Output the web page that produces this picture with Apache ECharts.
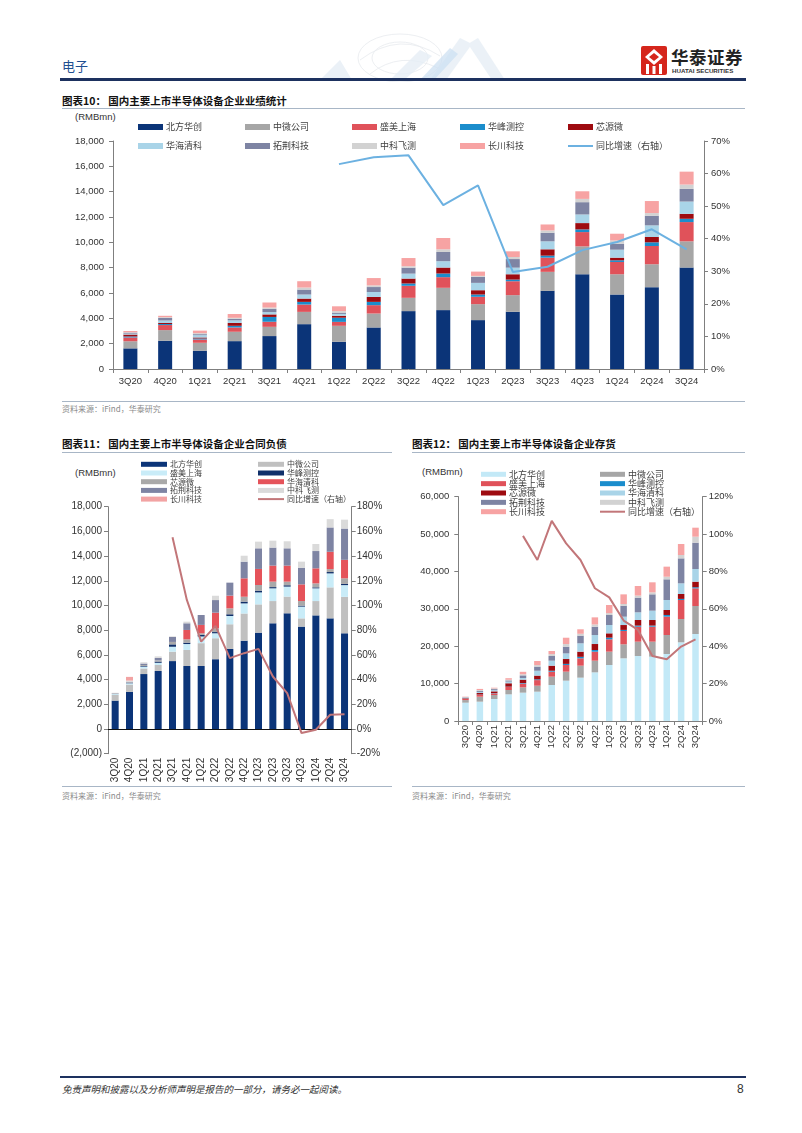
<!DOCTYPE html>
<html><head><meta charset="utf-8">
<script src="https://cdn.jsdelivr.net/npm/echarts@6/dist/echarts.min.js"></script>
<style>
body{margin:0;width:802px;height:1133px;background:#fff;position:relative;overflow:hidden;font-family:"Noto Sans CJK SC",sans-serif;}
.t{position:absolute;white-space:nowrap;}
.ln{position:absolute;}
.chart{position:absolute;left:0;top:0;width:802px;height:1133px;}
</style></head><body>

<!-- header decoration -->
<svg class="ln" style="left:300px;top:30px;opacity:0.6" width="240" height="52">
  <g fill="none" stroke="#d9dee5" stroke-width="0.8">
    <ellipse cx="100" cy="28" rx="42" ry="24"/>
    <ellipse cx="100" cy="28" rx="28" ry="16"/>
    <path d="M60 30 Q100 0 140 26"/><path d="M70 44 Q100 20 138 38"/>
  </g>
  <g fill="#d6e4f1" opacity="0.8">
    <polygon points="20,50 40,30 52,50"/>
    <polygon points="90,50 120,20 132,26 104,50"/>
    <polygon points="130,50 160,8 172,14 146,50"/>
    <polygon points="168,14 178,8 205,50 192,50"/>
  </g>
  <g fill="#a9cbea" opacity="0.7">
    <polygon points="120,50 150,18 158,24 134,50"/>
  </g>
</svg>
<div class="t" style="left:62px;top:57px;font-size:13px;line-height:18px;color:#1f4f91;">电子</div>
<svg class="ln" style="left:641px;top:46px" width="26" height="29">
  <rect x="0" y="0" width="26" height="29" rx="2" fill="#d5261c"/>
  <path d="M13 3 L22 11 L13 19 L4 11 Z" fill="#fff"/>
  <path d="M13 7 L18 11 L13 15 L8 11 Z" fill="#d5261c"/>
  <rect x="5" y="18" width="3" height="10" fill="#fff"/>
  <rect x="18" y="18" width="3" height="10" fill="#fff"/>
  <rect x="11.5" y="20" width="3" height="8" fill="#fff"/>
</svg>
<div class="t" style="left:671px;top:46px;font-size:17.5px;line-height:22px;font-weight:700;color:#222;letter-spacing:0.5px;">华泰证券</div>
<div class="t" style="left:672px;top:67px;font-size:6.2px;line-height:8px;font-weight:700;color:#333;font-family:'Liberation Sans',sans-serif;">HUATAI SECURITIES</div>
<div class="ln" style="left:60px;top:78px;width:686px;height:3px;background:#1d315f;"></div>

<!-- chart 10 frame -->
<div class="t" style="left:62px;top:93px;font-size:10.5px;line-height:16px;font-weight:700;color:#111;">图表10：&nbsp;国内主要上市半导体设备企业业绩统计</div>
<div class="ln" style="left:62px;top:108px;width:683px;height:1px;background:#a8b6c6;"></div>
<div class="t" style="left:75px;top:110px;font-size:9.5px;line-height:14px;color:#333;font-family:'Liberation Sans',sans-serif;">(RMBmn)</div>
<div class="ln" style="left:62px;top:401px;width:683px;height:1px;background:#a8b6c6;"></div>
<div class="t" style="left:62px;top:403px;font-size:8px;line-height:12px;color:#8a8a8a;">资料来源：iFind，华泰研究</div>

<!-- chart 11 frame -->
<div class="t" style="left:62px;top:436px;font-size:10.5px;line-height:16px;font-weight:700;color:#111;">图表11：&nbsp;国内主要上市半导体设备企业合同负债</div>
<div class="ln" style="left:62px;top:452px;width:330px;height:1px;background:#a8b6c6;"></div>
<div class="t" style="left:75px;top:466px;font-size:9.5px;line-height:14px;color:#333;font-family:'Liberation Sans',sans-serif;">(RMBmn)</div>
<div class="ln" style="left:62px;top:786px;width:330px;height:1px;background:#a8b6c6;"></div>
<div class="t" style="left:62px;top:790px;font-size:8px;line-height:12px;color:#8a8a8a;">资料来源：iFind，华泰研究</div>

<!-- chart 12 frame -->
<div class="t" style="left:412px;top:436px;font-size:10.5px;line-height:16px;font-weight:700;color:#111;">图表12：&nbsp;国内主要上市半导体设备企业存货</div>
<div class="ln" style="left:412px;top:452px;width:333px;height:1px;background:#a8b6c6;"></div>
<div class="t" style="left:422px;top:465px;font-size:9.5px;line-height:14px;color:#333;font-family:'Liberation Sans',sans-serif;">(RMBmn)</div>
<div class="ln" style="left:412px;top:786px;width:333px;height:1px;background:#a8b6c6;"></div>
<div class="t" style="left:412px;top:790px;font-size:8px;line-height:12px;color:#8a8a8a;">资料来源：iFind，华泰研究</div>

<!-- footer -->
<div class="ln" style="left:60px;top:1076px;width:686px;height:2px;background:#1d315f;"></div>
<div class="t" style="left:62px;top:1082px;font-size:9.5px;line-height:14px;color:#333;font-style:italic;">免责声明和披露以及分析师声明是报告的一部分，请务必一起阅读。</div>
<div class="t" style="left:737px;top:1081px;font-size:12px;line-height:16px;color:#333;font-family:'Liberation Sans',sans-serif;">8</div>

<div id="c10" class="chart"></div>
<div id="c11" class="chart"></div>
<div id="c12" class="chart"></div>

<script>
// ---------- shared categories / names ----------
const categories = ['3Q20','4Q20','1Q21','2Q21','3Q21','4Q21','1Q22','2Q22','3Q22','4Q22','1Q23','2Q23','3Q23','4Q23','1Q24','2Q24','3Q24'];
const companyNames = ['北方华创','中微公司','盛美上海','华峰测控','芯源微','华海清科','拓荆科技','中科飞测','长川科技'];
const lineName = '同比增速（右轴）';

// ---------- 图表10: revenue (RMBmn) ----------
const rev_naura      = [1630,2230,1440,2200,2600,3540,2150,3280,4570,4650,3860,4520,6170,7480,5880,6460,8010];
const rev_amec       = [560,840,630,740,730,970,1260,1100,1050,1760,1260,1310,1500,2200,1600,1810,2070];
const rev_acm        = [300,400,260,340,400,580,310,660,950,840,580,1100,1120,1130,970,1440,1520];
const rev_accotest   = [80,80,80,130,380,210,330,260,180,290,180,130,160,210,130,290,260];
const rev_kingsemi   = [150,80,80,230,200,260,150,390,390,470,340,420,500,500,210,420,390];
const rev_hwatsing   = [70,200,180,200,180,320,150,390,390,500,580,520,630,680,630,920,970];
const rev_piotech    = [80,200,80,120,260,390,100,390,470,730,470,680,680,970,470,760,1000];
const rev_skyverse   = [30,60,80,80,100,160,120,130,110,210,80,160,180,260,260,210,340];
const rev_changchuan = [100,110,200,300,400,500,380,580,650,890,340,450,470,600,530,950,1020];
const rev_yoy        = [null,null,null,null,null,null,62.9,65.0,65.6,50.3,56.4,29.8,31.4,36.5,39.0,42.9,36.7];

// ---------- 图表11: contract liabilities (RMBmn) ----------
const cl_naura      = [2300,3000,4450,4700,5500,5100,5100,5650,6480,7150,7800,8560,9370,8290,9200,8960,7750];
const cl_amec       = [470,600,450,480,760,1300,1850,1700,2000,2200,2290,1800,1350,670,1160,2510,2950];
const cl_acm        = [60,100,150,180,400,480,540,400,670,820,970,1030,810,950,1030,1130,950];
const cl_accotest   = [10,20,50,100,190,110,130,100,140,140,140,100,110,80,80,110,100];
const cl_kingsemi   = [40,50,80,100,200,270,130,300,480,400,460,440,290,370,320,240,450];
const cl_hwatsing   = [0,0,0,0,0,760,680,1270,1030,1490,1300,1300,1300,1350,1220,1400,1500];
const cl_piotech    = [20,50,120,200,400,540,800,1020,1050,1350,1670,1460,1400,1350,1400,1970,2530];
const cl_skyverse   = [30,100,100,120,50,130,0,350,0,480,540,560,570,490,570,670,720];
const cl_changchuan = [0,300,0,0,0,0,0,0,0,0,0,0,0,0,0,0,0];
const cl_yoy        = [null,null,null,null,155.2,104.5,70.8,83.5,57.4,61.4,64.9,42.5,29.0,-3.3,-0.6,11.5,12.0];

// ---------- 图表12: inventory (RMBmn) ----------
const inv_naura      = [4900,5170,5880,7130,7580,7840,9630,10790,11590,13010,14970,16760,17380,17200,17920,21040,23260];
const inv_amec       = [700,1330,1070,1160,1420,1600,2220,2400,3200,3120,3570,3740,3830,4010,5080,6230,7490];
const inv_acm        = [300,500,450,800,1000,1500,1340,1780,1970,2400,3300,3560,4000,4010,4900,5080,4720];
const inv_accotest   = [50,80,80,100,150,200,250,300,400,450,450,300,300,300,450,300,300];
const inv_kingsemi   = [150,400,450,900,900,1000,1350,1300,1380,1600,1150,1300,1500,1480,1330,1310,1480];
const inv_hwatsing   = [150,300,300,450,450,1300,1340,1500,2230,2400,2230,2230,2050,2500,2670,2850,3390];
const inv_piotech    = [100,300,300,300,700,1100,1250,1800,2050,2230,2670,2940,3920,4370,5530,6680,7040];
const inv_skyverse   = [50,200,200,200,300,400,500,700,500,600,500,450,550,530,700,900,1600];
const inv_changchuan = [100,300,170,400,650,1100,840,1700,1200,1900,2180,2580,2570,2680,2690,2930,2410];
const inv_yoy        = [null,null,null,null,99.0,86.1,107.0,95.0,86.1,71.0,66.1,53.7,48.7,34.8,33.0,39.8,43.7];

// ---------- rendering ----------
const NUM = "'Liberation Sans', Arial, sans-serif";
const CJK = "'Noto Sans CJK SC', sans-serif";
const fmt = v => Math.abs(v).toLocaleString('en-US');

function build(cfg){
  const ch = echarts.init(document.getElementById(cfg.id), null, {width:802, height:1133});
  const series = cfg.data.map((d,i)=>({
    name: companyNames[i], type:'bar', stack:'s', data:d, barWidth:cfg.barWidth,
    itemStyle:{color:cfg.colors[i]}, emphasis:{disabled:true}, silent:true
  }));
  if(cfg.zeroLine){
    series[0].markLine = {symbol:'none', silent:true, label:{show:false},
      lineStyle:{color:'#111', width:1, type:'solid'}, data:[{yAxis:0}]};
  }
  series.push({name:lineName, type:'line', yAxisIndex:1, data:cfg.yoy, symbol:'none', showSymbol:false,
    lineStyle:{color:cfg.lineColor, width:2}, itemStyle:{color:cfg.lineColor}, z:10, silent:true});
  const textStyle = {fontSize:cfg.lfs, lineHeight:cfg.lh, color:'#404040', fontFamily:CJK, padding:[0,0,0,-2]};
  const legend = cfg.legendCols.map((col,ci)=>({
    orient:'vertical', left:cfg.legendX[ci], top:cfg.legendTop - cfg.lh/2, padding:0,
    itemGap:cfg.pitch - cfg.lh, itemWidth:cfg.iconW, itemHeight:cfg.iconH, selectedMode:false,
    textStyle, icon:'rect',
    data: col.filter(n => n !== lineName)
  }));
  // separate legend for the growth line, drawn as a thin bar-like line
  legend.push({
    orient:'vertical', left:cfg.lineLegend[0], top:cfg.lineLegend[1] - cfg.lh/2, padding:0,
    itemWidth:cfg.iconW, itemHeight:2, selectedMode:false, icon:'rect', textStyle,
    data:[lineName]
  });
  const axisLine = {show:true, lineStyle:{color:'#7f7f7f', width:1}};
  ch.setOption({
    animation:false, backgroundColor:'transparent',
    grid:{left:cfg.grid[0], top:cfg.grid[1], width:cfg.grid[2], height:cfg.grid[3], containLabel:false, outerBoundsMode:'none'},
    legend,
    xAxis:{type:'category', data:categories,
      axisLine: cfg.xLine ? {show:true, onZero:false, lineStyle:{color:'#7f7f7f'}} : {show:false, onZero:false},
      axisTick: cfg.xLine ? {show:true, length:4, lineStyle:{color:'#7f7f7f'}} : {show:false},
      axisLabel:{interval:0, rotate:cfg.xRotate, fontSize:cfg.afs, color:'#333', fontFamily:NUM, margin:cfg.xMargin},
      splitLine:{show:false}},
    yAxis:[
      {type:'value', min:cfg.yL[0], max:cfg.yL[1], interval:cfg.yL[2], position:'left',
        axisLine, axisTick:{show:true, length:4, lineStyle:{color:'#7f7f7f'}}, splitLine:{show:false},
        axisLabel:{fontSize:cfg.afs, color:'#333', fontFamily:NUM, margin:cfg.yMarginL,
          formatter: v => v<0 ? '('+fmt(v)+')' : fmt(v)}},
      {type:'value', min:cfg.yR[0], max:cfg.yR[1], interval:cfg.yR[2], position:'right',
        axisLine, axisTick:{show:true, length:4, lineStyle:{color:'#7f7f7f'}}, splitLine:{show:false},
        axisLabel:{fontSize:cfg.afs, color:'#333', fontFamily:NUM, margin:cfg.yMarginR, formatter:'{value}%'}}
    ],
    series
  });
}

const baseColors = ['#0b3478','#a6a6a6','#e0525a','#1b8dcc','#9e0b10','#a9d4e8','#7e84a3','#d2d2d2','#f7a3a3'];

build({
  id:'c10', grid:[113,141,591,228], barWidth:14,
  data:[rev_naura,rev_amec,rev_acm,rev_accotest,rev_kingsemi,rev_hwatsing,rev_piotech,rev_skyverse,rev_changchuan],
  yoy:rev_yoy, colors:baseColors, lineColor:'#6cb1e1',
  yL:[0,18000,2000], yR:[0,70,10], xRotate:0, xLine:true, afs:9.5, xMargin:7, yMarginL:9, yMarginR:7,
  legendX:[138,245,352,460,568], legendTop:127, lh:12, pitch:19, iconW:25, iconH:6, lfs:9,
  lineLegend:[568,146],
  legendCols:[['北方华创','华海清科'],['中微公司','拓荆科技'],['盛美上海','中科飞测'],['华峰测控','长川科技'],['芯源微',lineName]]
});

build({
  id:'c11', grid:[108,506.7,243.7,247], barWidth:7, zeroLine:true,
  data:[cl_naura,cl_amec,cl_acm,cl_accotest,cl_kingsemi,cl_hwatsing,cl_piotech,cl_skyverse,cl_changchuan],
  yoy:cl_yoy, colors:['#0b3478','#c0c0c0','#c9ecf8','#10306a','#a9a9a9','#e5535a','#7e84a3','#dadada','#f2a3a3'],
  lineColor:'#c27679',
  yL:[-2000,18000,2000], yR:[-20,180,20], xRotate:90, xLine:false, afs:10, xMargin:4, yMarginL:6, yMarginR:5,
  legendX:[141,258], legendTop:464.3, lh:8, pitch:8.7, iconW:26, iconH:5, lfs:8,
  lineLegend:[258,464.3+4*8.7],
  legendCols:[['北方华创','盛美上海','芯源微','拓荆科技','长川科技'],['中微公司','华峰测控','华海清科','中科飞测',lineName]]
});

build({
  id:'c12', grid:[458.3,496.6,244.4,224.4], barWidth:6.5,
  data:[inv_naura,inv_amec,inv_acm,inv_accotest,inv_kingsemi,inv_hwatsing,inv_piotech,inv_skyverse,inv_changchuan],
  yoy:inv_yoy, colors:['#c3e9f7','#a6a6a6','#e0525a','#1b8dcc','#9e0b10','#a9d4e8','#7e84a3','#d2d2d2','#f7a3a3'],
  lineColor:'#c27679',
  yL:[0,60000,10000], yR:[0,120,20], xRotate:90, xLine:true, afs:9.5, xMargin:4, yMarginL:9, yMarginR:6,
  legendX:[481,600], legendTop:474.3, lh:9, pitch:9.35, iconW:25, iconH:5, lfs:9,
  lineLegend:[600,474.3+4*9.35],
  legendCols:[['北方华创','盛美上海','芯源微','拓荆科技','长川科技'],['中微公司','华峰测控','华海清科','中科飞测',lineName]]
});
</script>
</body></html>
